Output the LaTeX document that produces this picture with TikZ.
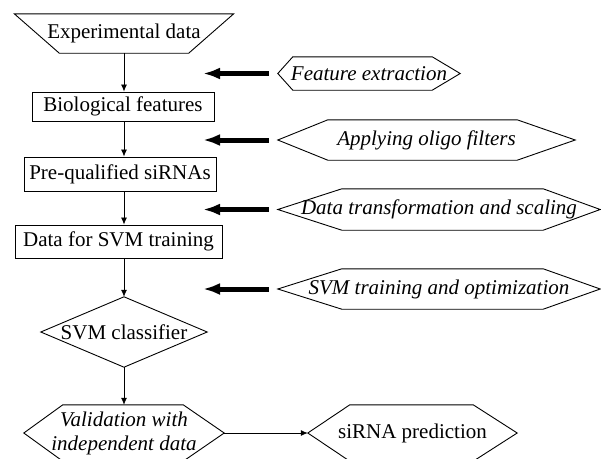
\documentclass[tikz,border=0pt]{standalone}
\usepackage{fontspec}
\setmainfont{Liberation Serif}
\usetikzlibrary{arrows.meta}
\tikzset{
  txt/.style={inner sep=0pt, font=\fontsize{21}{24}\selectfont, align=center},
  box/.style={txt, draw, line width=0.9pt},
  outline/.style={line width=0.9pt, line join=miter},
  flow/.style={line width=0.8pt, -{Latex[length=7pt,width=6pt]}},
  feed/.style={line width=5pt, -{Latex[length=17pt,width=12pt]}, shorten <=9pt},
}
\newcommand{\hexdraw}[3]{\draw[outline] (#1.west) -- ([xshift=#2pt]#1.north west) -- ([xshift=-#3pt]#1.north east) -- (#1.east) -- ([xshift=-#3pt]#1.south east) -- ([xshift=#2pt]#1.south west) -- cycle;}
\begin{document}
\begin{tikzpicture}[x=1pt,y=-1pt]
\useasboundingbox (0,0) rectangle (601,458);
% main column
\node[txt, minimum width=219pt, minimum height=39pt] (exp) at (124,33.5) {Experimental data};
\draw[outline] (exp.north west) -- (exp.north east) -- ([xshift=-45pt]exp.south east) -- ([xshift=45pt]exp.south west) -- cycle;
\node[box, minimum width=182pt, minimum height=29pt] (bio) at (123,106.5) {Biological features};
\node[box, minimum width=192pt, minimum height=34pt] (pre) at (120,174) {Pre-qualified siRNAs};
\node[box, minimum width=207pt, minimum height=33pt] (dat) at (118.5,241.5) {Data for SVM training};
\node[txt, minimum width=166pt, minimum height=70pt] (svm) at (124,332) {SVM classifier};
\draw[outline] (svm.north) -- (svm.east) -- (svm.south) -- (svm.west) -- cycle;
\node[txt, font=\fontsize{21}{24}\selectfont\itshape, minimum width=200pt, minimum height=56pt] (val) at (124,433) {Validation with\\independent data};
\hexdraw{val}{39}{41}
\node[txt, minimum width=209pt, minimum height=56pt] (pred) at (412.5,433) {siRNA prediction};
\hexdraw{pred}{42}{44}
% side steps
\node[txt, font=\fontsize{21}{24}\selectfont\itshape, minimum width=182pt, minimum height=33pt] (fe) at (369,73.5) {Feature extraction};
\hexdraw{fe}{15}{28}
\node[txt, font=\fontsize{21}{24}\selectfont\itshape, minimum width=297pt, minimum height=40pt] (of) at (426.5,140) {Applying oligo filters};
\hexdraw{of}{50}{58}
\node[txt, font=\fontsize{21}{24}\selectfont\itshape, minimum width=322pt, minimum height=41pt] (dt) at (439,209.5) {Data transformation and scaling};
\hexdraw{dt}{64}{57}
\node[txt, font=\fontsize{21}{24}\selectfont\itshape, minimum width=322pt, minimum height=40pt] (st) at (439,289) {SVM training and optimization};
\hexdraw{st}{64}{57}
% tips of feed arrows
\coordinate (t1) at (203,73.5);
\coordinate (t2) at (203,140);
\coordinate (t3) at (203,209.5);
\coordinate (t4) at (203,289);
% connectors
\draw[flow] (exp.south) -- (exp.south |- bio.north);
\draw[flow] (exp.south |- bio.south) -- (exp.south |- pre.north);
\draw[flow] (exp.south |- pre.south) -- (exp.south |- dat.north);
\draw[flow] (exp.south |- dat.south) -- (svm.north);
\draw[flow] (svm.south) -- (val.north);
\draw[flow] (val.east) -- (pred.west);
\draw[feed] (fe.west) -- (t1);
\draw[feed] (of.west) -- (t2);
\draw[feed] (dt.west) -- (t3);
\draw[feed] (st.west) -- (t4);
\end{tikzpicture}
\end{document}
